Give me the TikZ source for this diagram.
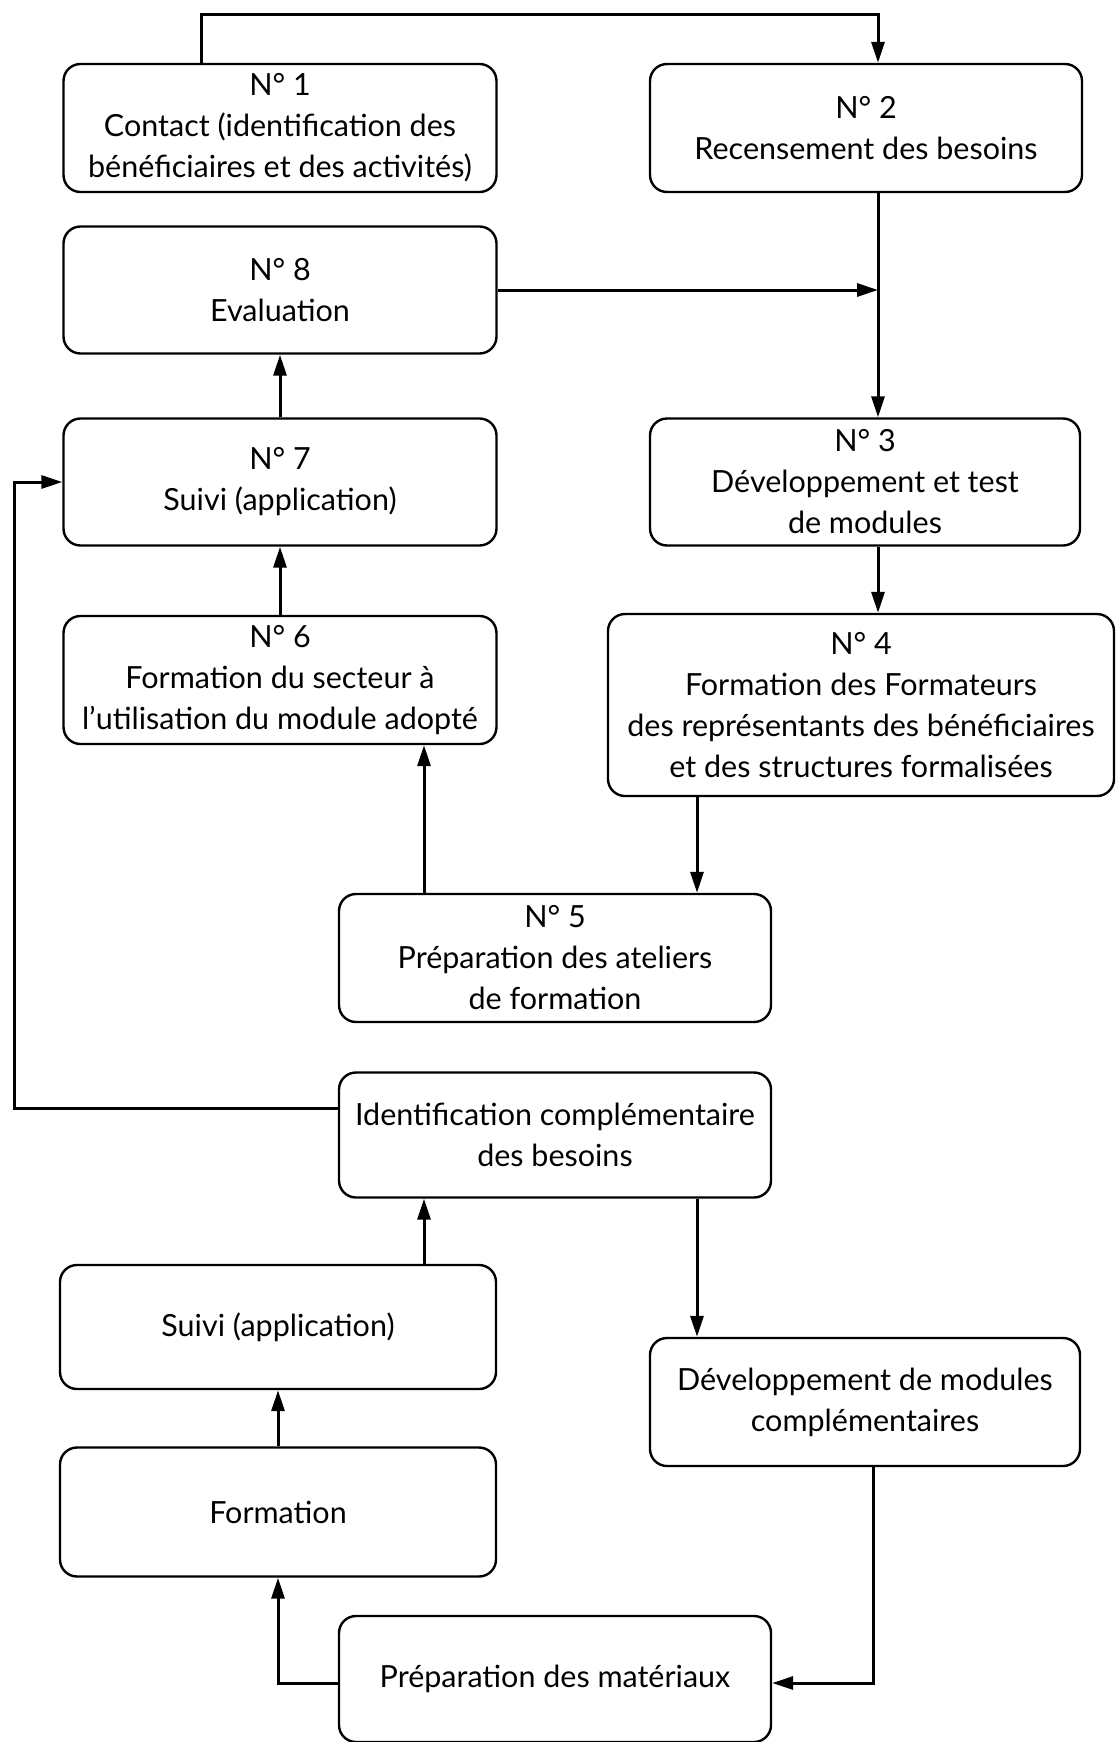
\documentclass[tikz,border=0pt]{standalone}
\usepackage{fontspec}
\setmainfont{Lato}
\usetikzlibrary{arrows.meta}
\begin{document}
\begin{tikzpicture}[x=1pt,y=-1pt,
  box/.style={draw, line width=2.4pt, rounded corners=17pt, inner sep=0pt, align=center,
    font=\fontsize{30.5}{41}\selectfont},
  arr/.style={line width=3pt, -{Triangle[length=21pt,width=13pt]}}]
\useasboundingbox (0,0) rectangle (1116,1742);
\node[box, minimum width=433pt, minimum height=128pt] (n1) at (280,128) {N° 1\\Contact (identification des\\bénéficiaires et des activités)};
\node[box, minimum width=432pt, minimum height=128pt] (n2) at (866,128) {N° 2\\Recensement des besoins};
\node[box, minimum width=433pt, minimum height=127pt] (n8) at (280,290) {N° 8\\Evaluation};
\node[box, minimum width=433pt, minimum height=127pt] (n7) at (280,482) {N° 7\\Suivi (application)};
\node[box, minimum width=430pt, minimum height=127pt] (n3) at (865,482) {N° 3\\Développement et test\\de modules};
\node[box, minimum width=433pt, minimum height=128pt] (n6) at (280,680) {N° 6\\Formation du secteur à\\l’utilisation du module adopté};
\node[box, minimum width=506pt, minimum height=182pt] (n4) at (861,705) {N° 4\\Formation des Formateurs\\des représentants des bénéficiaires\\et des structures formalisées};
\node[box, minimum width=432pt, minimum height=128pt] (n5) at (555,958) {N° 5\\Préparation des ateliers\\de formation};
\node[box, minimum width=432pt, minimum height=125pt] (id) at (555,1135) {Identification complémentaire\\des besoins};
\node[box, minimum width=436pt, minimum height=124pt] (s2) at (278,1327) {Suivi (application)};
\node[box, minimum width=430pt, minimum height=128pt] (dev) at (865,1402) {Développement de modules\\complémentaires};
\node[box, minimum width=436pt, minimum height=129pt] (form) at (278,1512) {Formation};
\node[box, minimum width=432pt, minimum height=126pt] (prep) at (555,1679) {Préparation des matériaux};

\coordinate (sp) at (878,0);
\coordinate (v1) at (424,0);
\coordinate (v2) at (697,0);
\coordinate (lft) at (14,0);
\coordinate (c1) at (201,15);
\coordinate (c2) at (878,15);

\draw[arr] (c1 |- n1.north) -- (c1) -- (c2) -- (sp |- n2.north);
\draw[arr] (sp |- n2.south) -- (sp |- n3.north);
\draw[arr] (n8.east) -- (sp |- n8.east);
\draw[arr] (sp |- n3.south) -- (sp |- n4.north);
\draw[arr] (n7.north) -- (n8.south);
\draw[arr] (n6.north) -- (n7.south);
\draw[arr] (v2 |- n4.south) -- (v2 |- n5.north);
\draw[arr] (v1 |- n5.north) -- (v1 |- n6.south);
\draw[arr] ([yshift=27pt]id.west) -| (lft |- n7.west) -- (n7.west);
\draw[arr] (v1 |- s2.north) -- (v1 |- id.south);
\draw[arr] (v2 |- id.south) -- (v2 |- dev.north);
\draw[arr] (form.north) -- (s2.south);
\draw[arr] ([yshift=-4pt]prep.west) -| (form.south);
\draw[arr] ([xshift=8pt]dev.south) |- ([yshift=-4pt]prep.east);
\end{tikzpicture}
\end{document}
